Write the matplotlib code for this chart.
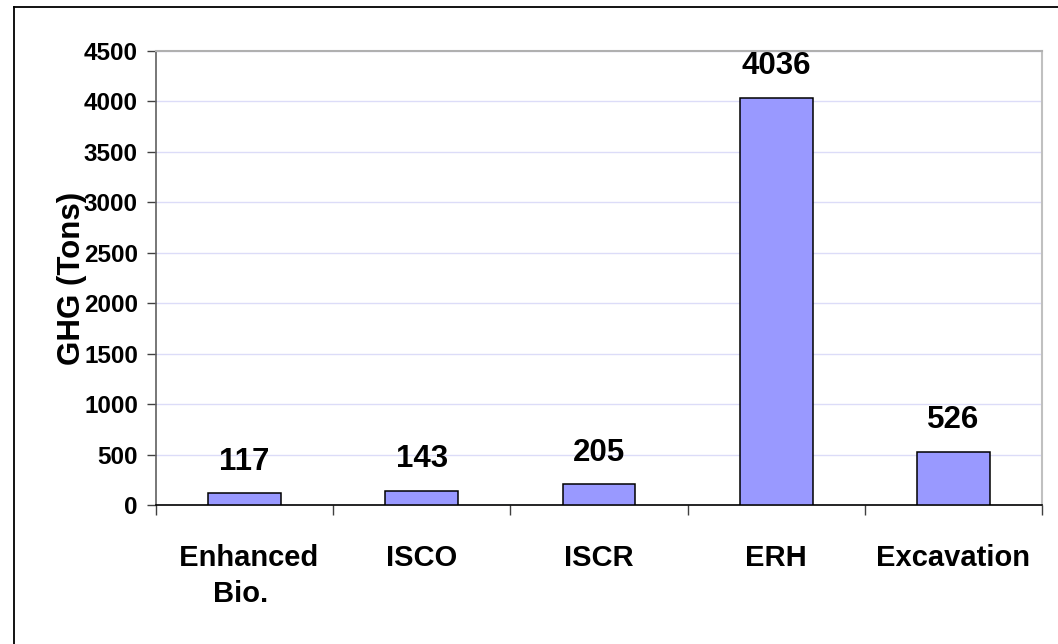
import matplotlib
matplotlib.use("Agg")
import matplotlib.pyplot as plt
from matplotlib.lines import Line2D

categories = [" Enhanced\nBio. ", "ISCO", "ISCR", "ERH", "Excavation"]
values = [117, 143, 205, 4036, 526]
yticks = [0, 500, 1000, 1500, 2000, 2500, 3000, 3500, 4000, 4500]

plt.rcParams['font.family'] = ['Liberation Sans', 'DejaVu Sans']
plt.rcParams['font.weight'] = 'bold'

W, H = 1058, 644
fig = plt.figure(figsize=(W / 100, H / 100), dpi=100)
ax = fig.add_axes([156 / W, 1 - 505 / H, (1042 - 156) / W, (505 - 51) / H])

x = list(range(len(categories)))
ax.bar(x, values, width=0.41, color='#9999FF', edgecolor='black', linewidth=1.1, zorder=3)

for xi, v in zip(x, values):
    ax.annotate(str(v), (xi, v), xytext=(0, 17), textcoords='offset points',
                ha='center', va='baseline', fontsize=22.5, fontweight='bold')

ax.set_xlim(-0.5, len(categories) - 0.5)
ax.set_ylim(0, 4500)
ax.set_yticks(yticks)
ax.set_yticklabels([str(t) for t in yticks], fontsize=17.5, fontweight='bold')
ax.set_xticks(x)
ax.set_xticklabels(categories, fontsize=21, fontweight='bold', linespacing=1.35)
ax.set_xticks([i - 0.5 for i in range(len(categories) + 1)], minor=True)
ax.tick_params(axis='x', which='major', length=0, pad=28)
ax.tick_params(axis='x', which='minor', length=7, width=1, direction='out', color='#404040')
ax.tick_params(axis='y', which='major', length=6.5, width=1, direction='out', color='#404040', pad=6.5)

ax.yaxis.grid(True, color='#DCDCF8', linewidth=1, zorder=0)
ax.set_axisbelow(True)

ax.spines['top'].set_color('#B0B0B0')
ax.spines['top'].set_linewidth(1.5)
ax.spines['right'].set_color('#C0C0C0')
ax.spines['right'].set_linewidth(1.5)
ax.spines['left'].set_color('#606060')
ax.spines['left'].set_linewidth(1.2)
ax.spines['bottom'].set_color('black')
ax.spines['bottom'].set_linewidth(1.2)

ax.set_ylabel("GHG (Tons)", fontsize=22.5, fontweight='bold', labelpad=-2.5)

# outer chart border (top and left visible)
fx = 13.5 / W
fy = 1 - 6.5 / H
fig.add_artist(Line2D([fx, 1.0], [fy, fy], transform=fig.transFigure, color='black', linewidth=1.3))
fig.add_artist(Line2D([fx, fx], [0.0, fy], transform=fig.transFigure, color='black', linewidth=1.3))

fig.savefig("out.png", dpi=100)
